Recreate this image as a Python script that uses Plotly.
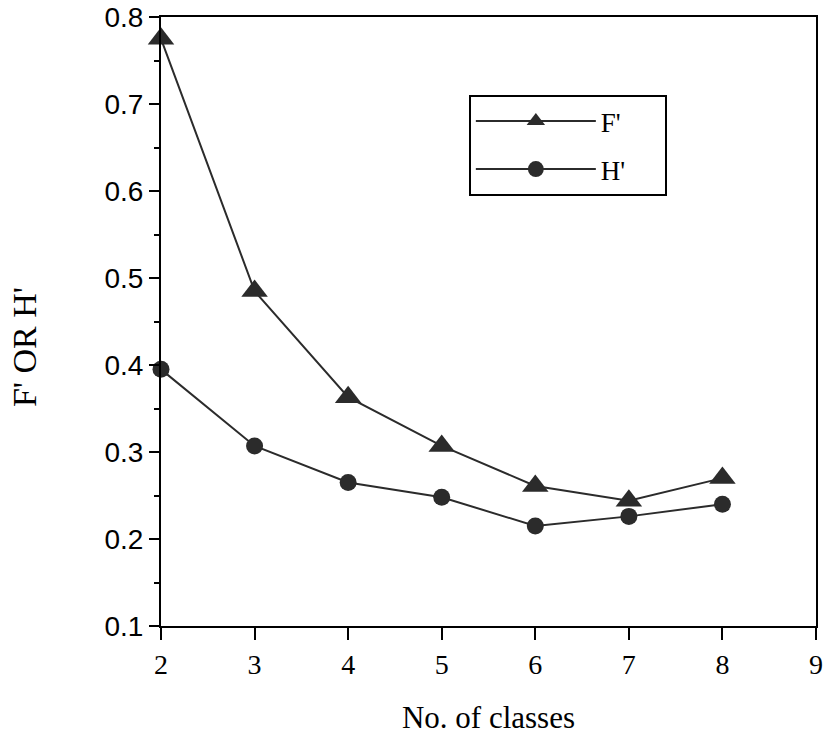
import plotly.graph_objects as go

# Number of classes and the two indices computed for each
classes = [2, 3, 4, 5, 6, 7, 8]
f_prime = [0.775, 0.485, 0.363, 0.307, 0.261, 0.244, 0.270]
h_prime = [0.395, 0.307, 0.265, 0.248, 0.215, 0.226, 0.240]

x_ticks = [2, 3, 4, 5, 6, 7, 8, 9]
y_ticks = [0.1, 0.2, 0.3, 0.4, 0.5, 0.6, 0.7, 0.8]

ink = "#2b2b2b"
serif = "Liberation Serif, Times New Roman, serif"
sans = "Liberation Sans, Arial, sans-serif"
pad = "\u00a0" * 5

fig = go.Figure()
fig.add_trace(go.Scatter(
    x=classes, y=f_prime, name="F'" + pad, mode="lines+markers",
    legendgroup="f", line=dict(color=ink, width=2),
    marker=dict(symbol="triangle-up", size=23, color=ink),
    cliponaxis=False,
))
fig.add_trace(go.Scatter(
    x=classes, y=h_prime, name="H'" + pad, mode="lines+markers",
    legendgroup="h", line=dict(color=ink, width=2),
    marker=dict(symbol="circle", size=17, color=ink),
    cliponaxis=False,
))

fig.update_layout(
    width=825, height=739,
    margin=dict(l=161, r=2, t=15, b=113),
    paper_bgcolor="white", plot_bgcolor="white",
    showlegend=True,
    legend=dict(
        x=0.470, y=0.872, xanchor="left", yanchor="top",
        bordercolor="black", borderwidth=2, bgcolor="white",
        font=dict(family=serif, size=27, color="black"),
        itemwidth=120, traceorder="grouped", tracegroupgap=10,
    ),
    xaxis=dict(
        range=[2, 9], tickvals=x_ticks, ticks="outside", ticklen=12,
        tickwidth=2, tickcolor="black", ticklabeloverflow="allow",
        showline=True, linecolor="black", linewidth=2, mirror=True,
        showgrid=False, zeroline=False,
        tickfont=dict(family=serif, size=28, color="black"),
        title=dict(text="No. of classes", font=dict(family=serif, size=31, color="black"),
                   standoff=28),
    ),
    yaxis=dict(
        range=[0.1, 0.8], tickvals=y_ticks, tickformat=".1f",
        ticks="outside", ticklen=10, tickwidth=2, tickcolor="black",
        ticklabeloverflow="allow",
        minor=dict(dtick=0.05, ticks="outside", ticklen=5, tickwidth=2, tickcolor="black"),
        showline=True, linecolor="black", linewidth=2, mirror=True,
        showgrid=False, zeroline=False,
        tickfont=dict(family=sans, size=28, color="black"),
    ),
    annotations=[dict(
        text="F' OR H'", textangle=-90, showarrow=False,
        xref="paper", yref="paper", x=0, y=0.458,
        xanchor="center", yanchor="middle", xshift=-137,
        font=dict(family=serif, size=34, color="black"),
    )],
)

fig.write_html("out.html")
